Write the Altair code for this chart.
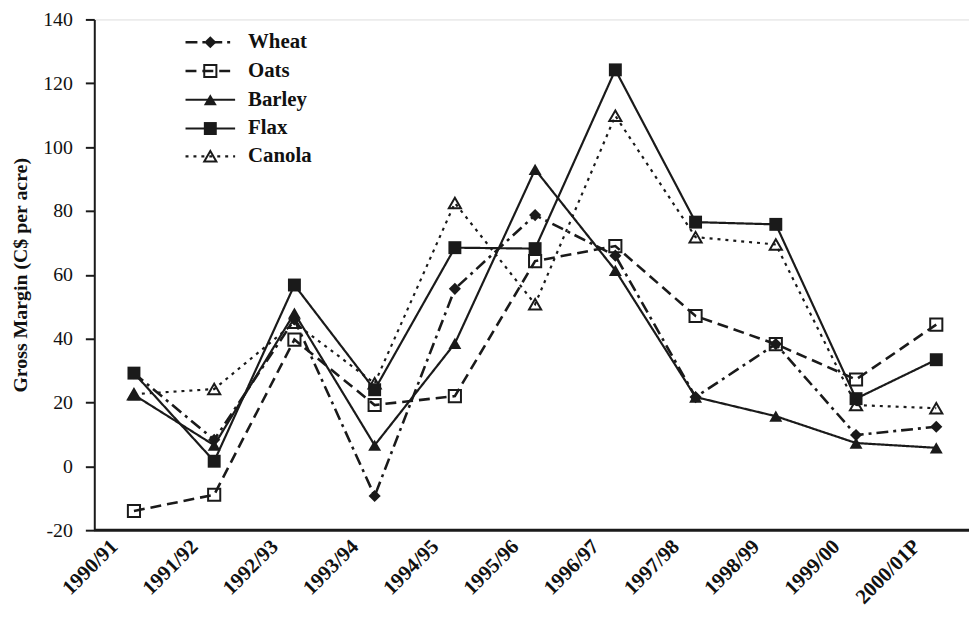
import altair as alt
import pandas as pd

years = ["1990/91", "1991/92", "1992/93", "1993/94", "1994/95", "1995/96",
         "1996/97", "1997/98", "1998/99", "1999/00", "2000/01P"]

wheat = [29.2, 8.3, 46, -9.3, 55.6, 78.7, 66, 21.7, 38.3, 9.8, 12.4]
oats = [-14, -8.9, 39.7, 19.2, 22, 64.3, 69, 47.1, 38.3, 27.2, 44.4]
barley = [22.4, 6.6, 48, 6.6, 38.5, 93, 61.4, 21.7, 15.7, 7.3, 5.8]
flax = [29.2, 1.6, 56.8, 24, 68.5, 68.2, 124.2, 76.5, 75.8, 21.2, 33.4]
canola = [22.6, 24.2, 45, 26, 82.5, 50.8, 109.8, 71.8, 69.5, 19.2, 18.2]

series_names = ["Wheat", "Oats", "Barley", "Flax", "Canola"]
series_values = [wheat, oats, barley, flax, canola]

rows = []
for name, vals in zip(series_names, series_values):
    for yr, v in zip(years, vals):
        rows.append({"series": name, "year": yr, "value": v})
df = pd.DataFrame(rows)

FONT = "Liberation Serif"
INK = "#1a1a1a"

styles = {
    "Wheat": dict(dash=[12, 5, 3, 5], sw=2.6, shape="diamond", filled=True, size=150),
    "Oats": dict(dash=[11, 6], sw=2.6, shape="square", filled=False, size=150),
    "Barley": dict(dash=[1, 0], sw=2.2, shape="triangle-up", filled=True, size=170),
    "Flax": dict(dash=[1, 0], sw=2.2, shape="square", filled=True, size=170),
    "Canola": dict(dash=[3, 5], sw=2.2, shape="triangle-up", filled=False, size=150),
}

x_enc = alt.X("year:O", sort=years,
              scale=alt.Scale(type="point", domain=years, range=[40, 849], padding=0),
              axis=alt.Axis(title=None, labelAngle=-45, labelAlign="right",
                            labelBaseline="middle", labelOffset=-20, labelPadding=13,
                            ticks=False, domain=False,
                            labelFont=FONT, labelFontSize=21, labelFontWeight="bold",
                            labelColor="#111", grid=False))
y_enc = alt.Y("value:Q",
              scale=alt.Scale(domain=[-20, 140], nice=False, zero=False),
              axis=alt.Axis(title="Gross Margin (C$ per acre)", values=list(range(-20, 141, 20)),
                            labelExpr="'' + datum.value",
                            tickSize=9, tickWidth=2, tickColor=INK,
                            domainWidth=2, domainColor=INK,
                            labelPadding=13, labelFont=FONT, labelFontSize=20,
                            labelColor="#111", titleFont=FONT, titleFontSize=20,
                            titleFontWeight="bold", titleColor="#111", titlePadding=12,
                            grid=False))

layers = []

# x axis baseline spanning the whole plot width, at y = -20
axis_df = pd.DataFrame({"value": [-20]})
layers.append(alt.Chart(axis_df).mark_rule(color=INK, strokeWidth=3).encode(
    x=alt.value(0), x2=alt.value(882), y=alt.Y("value:Q", scale=alt.Scale(domain=[-20, 140], nice=False, zero=False))))

for name in series_names:
    st = styles[name]
    base = alt.Chart(df).transform_filter(alt.datum.series == name)
    line = base.mark_line(color=INK, strokeWidth=st["sw"], strokeDash=st["dash"]).encode(
        x=x_enc, y=y_enc)
    pts = base.mark_point(shape=st["shape"], filled=st["filled"], size=st["size"],
                          color=INK, strokeWidth=2, opacity=1).encode(x=x_enc, y=y_enc)
    layers += [line, pts]

# legend (manual, top-left)
leg_rows = [23, 52, 81, 110, 138]
for name, ly in zip(series_names, leg_rows):
    st = styles[name]
    ldf = pd.DataFrame({"series": [name]})
    lb = alt.Chart(ldf)
    layers.append(lb.mark_rule(color=INK, strokeWidth=st["sw"], strokeDash=st["dash"]).encode(
        x=alt.value(92), x2=alt.value(142), y=alt.value(ly)))
    layers.append(lb.mark_point(shape=st["shape"], filled=st["filled"], size=st["size"],
                                color=INK, strokeWidth=2, opacity=1).encode(
        x=alt.value(117), y=alt.value(ly)))
    layers.append(lb.mark_text(align="left", baseline="middle", font=FONT, fontSize=21,
                               fontWeight="bold", color="#111").encode(
        x=alt.value(155), y=alt.value(ly), text="series:N"))

chart = alt.layer(*layers).properties(
    width=882, height=515,
    autosize=alt.AutoSizeParams(type="none"),
    padding={"left": 87, "top": 9, "right": 0, "bottom": 82},
).configure_view(stroke=None).configure(background="white")

chart.save("out.html", embed_options={"renderer": "svg", "actions": False})
